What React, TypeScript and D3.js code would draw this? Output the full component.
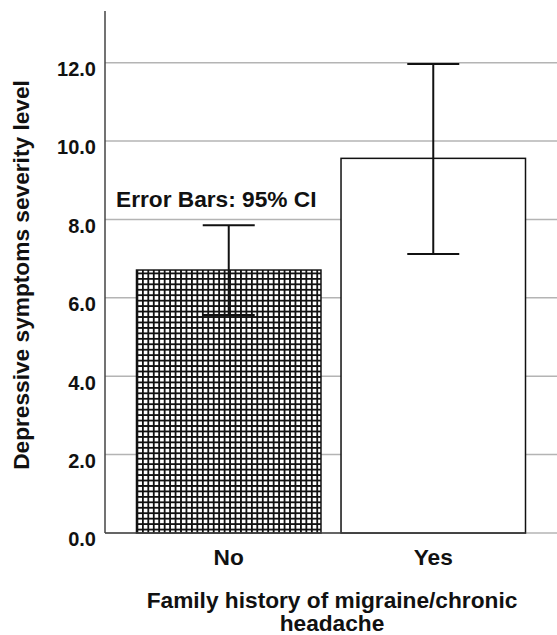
import React from "react";
import * as d3 from "d3";

const categories = ["No", "Yes"];
const means = [6.71, 9.56];
const ciLower = [5.56, 7.12];
const ciUpper = [7.85, 11.97];
const yTicks = [0, 2, 4, 6, 8, 10, 12];
const xTitleLines = ["Family history of migraine/chronic", "headache"];

const W = 557;
const H = 635;
const FONT = "'Liberation Sans', Arial, sans-serif";
const FS = 22.7;

export default function App() {
  const x0 = 105;
  const baseY = 533;
  const y = d3.scaleLinear().domain([0, 13.32]).range([baseY, 11]);
  const x = d3
    .scaleBand<string>()
    .domain(categories)
    .range([x0, W])
    .paddingInner(0.098)
    .paddingOuter(0.154);
  const bw = x.bandwidth();
  const capHalf = 26;
  const lastRight = (x(categories[categories.length - 1]) as number) + bw;

  return (
    <svg
      width={W}
      height={H}
      style={{ position: "absolute", left: 0, top: 0, background: "#fff" }}
      fontFamily={FONT}
    >
      <defs>
        <pattern
          id="hatch"
          patternUnits="userSpaceOnUse"
          width={5.45}
          height={5.45}
          x={x("No") as number}
          y={0}
        >
          <rect width={5.45} height={5.45} fill="#fff" />
          <line x1={0.9} y1={0} x2={0.9} y2={5.45} stroke="#111" strokeWidth={1.8} />
          <line x1={0} y1={0.9} x2={5.45} y2={0.9} stroke="#111" strokeWidth={1.8} />
        </pattern>
      </defs>

      {/* gridlines */}
      {yTicks.map((t) => (
        <line
          key={"g" + t}
          x1={x0}
          x2={W}
          y1={y(t)}
          y2={y(t)}
          stroke="#b4b4b4"
          strokeWidth={1.5}
        />
      ))}

      {/* bars */}
      {categories.map((c, i) => (
        <rect
          key={"b" + c}
          x={x(c)}
          y={y(means[i])}
          width={bw}
          height={baseY - y(means[i])}
          fill={i === 0 ? "url(#hatch)" : "#fff"}
          stroke="#111"
          strokeWidth={1.5}
        />
      ))}

      {/* error bars */}
      {categories.map((c, i) => {
        const cx = (x(c) as number) + bw / 2;
        return (
          <g key={"e" + c} stroke="#111" strokeWidth={2}>
            <line x1={cx} x2={cx} y1={y(ciUpper[i])} y2={y(ciLower[i])} />
            <line x1={cx - capHalf} x2={cx + capHalf} y1={y(ciUpper[i])} y2={y(ciUpper[i])} />
            <line x1={cx - capHalf} x2={cx + capHalf} y1={y(ciLower[i])} y2={y(ciLower[i])} />
          </g>
        );
      })}

      {/* axes */}
      <line x1={x0} x2={x0} y1={11} y2={baseY} stroke="#444" strokeWidth={1.5} />
      <line x1={x0} x2={lastRight} y1={baseY} y2={baseY} stroke="#444" strokeWidth={1.5} />

      {/* y tick labels */}
      {yTicks.map((t) => (
        <text
          key={"t" + t}
          x={96}
          y={y(t) + 13.3}
          textAnchor="end"
          fontSize={20}
          fontWeight="bold"
          fill="#111"
        >
          {t.toFixed(1)}
        </text>
      ))}

      {/* x tick labels */}
      {categories.map((c) => (
        <text
          key={"x" + c}
          x={(x(c) as number) + bw / 2}
          y={565}
          textAnchor="middle"
          fontSize={FS}
          fontWeight="bold"
          fill="#111"
        >
          {c}
        </text>
      ))}

      {/* annotation */}
      <text x={116} y={207} fontSize={FS} fontWeight="bold" fill="#111">
        Error Bars: 95% CI
      </text>

      {/* x title (two lines, one text element) */}
      <text x={332} y={608} textAnchor="middle" fontSize={FS} fontWeight="bold" fill="#111">
        {xTitleLines.map((l, i) => (
          <tspan key={l} x={332} dy={i === 0 ? 0 : 22.5}>
            {l}
          </tspan>
        ))}
      </text>

      {/* y title */}
      <text
        transform={`translate(29, 275) rotate(-90)`}
        textAnchor="middle"
        fontSize={FS}
        fontWeight="bold"
        fill="#111"
      >
        Depressive symptoms severity level
      </text>
    </svg>
  );
}
